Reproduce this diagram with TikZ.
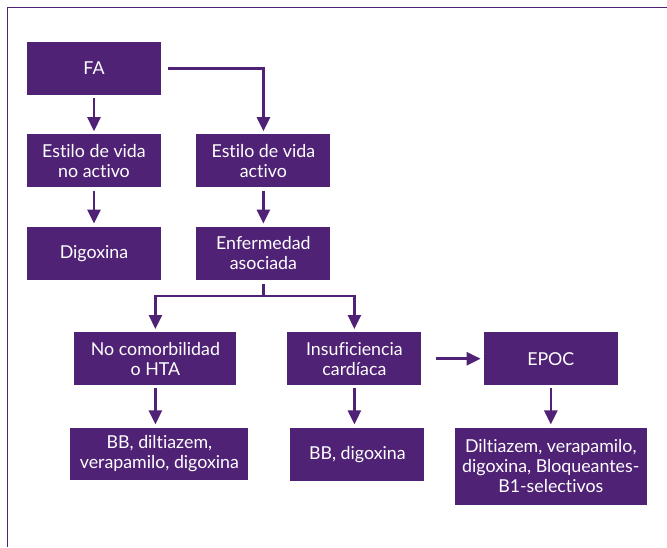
\documentclass[tikz,border=0pt]{standalone}
\usepackage{fontspec}
\setmainfont{Lato}[Ligatures=NoCommon]
\usepackage{tikz}
\usetikzlibrary{positioning,arrows.meta}
\definecolor{DeepPurple}{HTML}{4F2275}

\begin{document}
\begin{tikzpicture}[
  x=1pt, y=1pt,
  font=\fontsize{17.8}{20}\selectfont,
  node distance=39pt,
  >={Triangle[length=14pt,width=13pt]},
  % --- boxes ---
  pbox/.style={fill=DeepPurple, text=white, align=center, inner sep=2pt,
    minimum width=134pt, minimum height=53pt},
  % --- relations ---
  flow/.style={->, DeepPurple, line width=2.6pt, shorten <=3pt, shorten >=3pt},
  frame/.style={DeepPurple, line width=1.3pt},
]
\useasboundingbox (0,0) rectangle (667,-547);

% outer frame (open at right and bottom)
\draw[frame] (667,-7.5) -- (7.5,-7.5) -- (7.5,-547);

% =================== TOP ===================
\node[pbox] (fa) at (94,-68.5) {FA};
\node[pbox, below=of fa] (noact) {Estilo de vida\\no activo};
\node[pbox, right=35pt of noact] (act) {Estilo de vida\\activo};
\node[pbox, below=of noact] (dig) {Digoxina};
\node[pbox, below=of act] (enf) {Enfermedad\\asociada};

% =================== COMORBIDITIES ===================
\node[pbox, minimum width=162pt, below=52pt of enf, xshift=-108pt] (nocom)
  {No comorbilidad\\o HTA};
\node[pbox, below=52pt of enf, xshift=91pt] (insuf) {Insuficiencia\\card\'iaca};
\node[pbox, right=62pt of insuf] (epoc) {EPOC};

% =================== TREATMENT ===================
\node[pbox, minimum width=178pt, minimum height=52pt, below=42pt of nocom, xshift=4pt] (bbdil)
  {BB, diltiazem,\\verapamilo, digoxina};
\node[pbox, below=42pt of insuf, xshift=3pt] (bbdig) {BB, digoxina};
\node[pbox, minimum width=192pt, minimum height=77pt, below=42pt of epoc] (dilt)
  {Diltiazem, verapamilo,\\digoxina, Bloqueantes-\\B1-selectivos};

% =================== RELATIONS ===================
% FA splits by lifestyle
\draw[flow] (fa) -- (noact);
\draw[flow, shorten <=7pt] (fa.east) -| (act.north);
\draw[flow] (noact) -- (dig);
\draw[flow] (act) -- (enf);
% associated disease branches
\draw[flow, shorten <=4pt] (enf.south) -- ++(0,-16) -| (nocom.north);
\draw[flow, shorten <=4pt] (enf.south) -- ++(0,-16) -| (insuf.north);
\draw[flow, shorten <=14pt] (insuf) -- (epoc);
% treatments
\draw[flow] (nocom.south) -- (nocom.south |- bbdil.north);
\draw[flow] (insuf) -- (insuf.south |- bbdig.north);
\draw[flow] (epoc.south -| dilt.north) -- (dilt.north);

\end{tikzpicture}
\end{document}
